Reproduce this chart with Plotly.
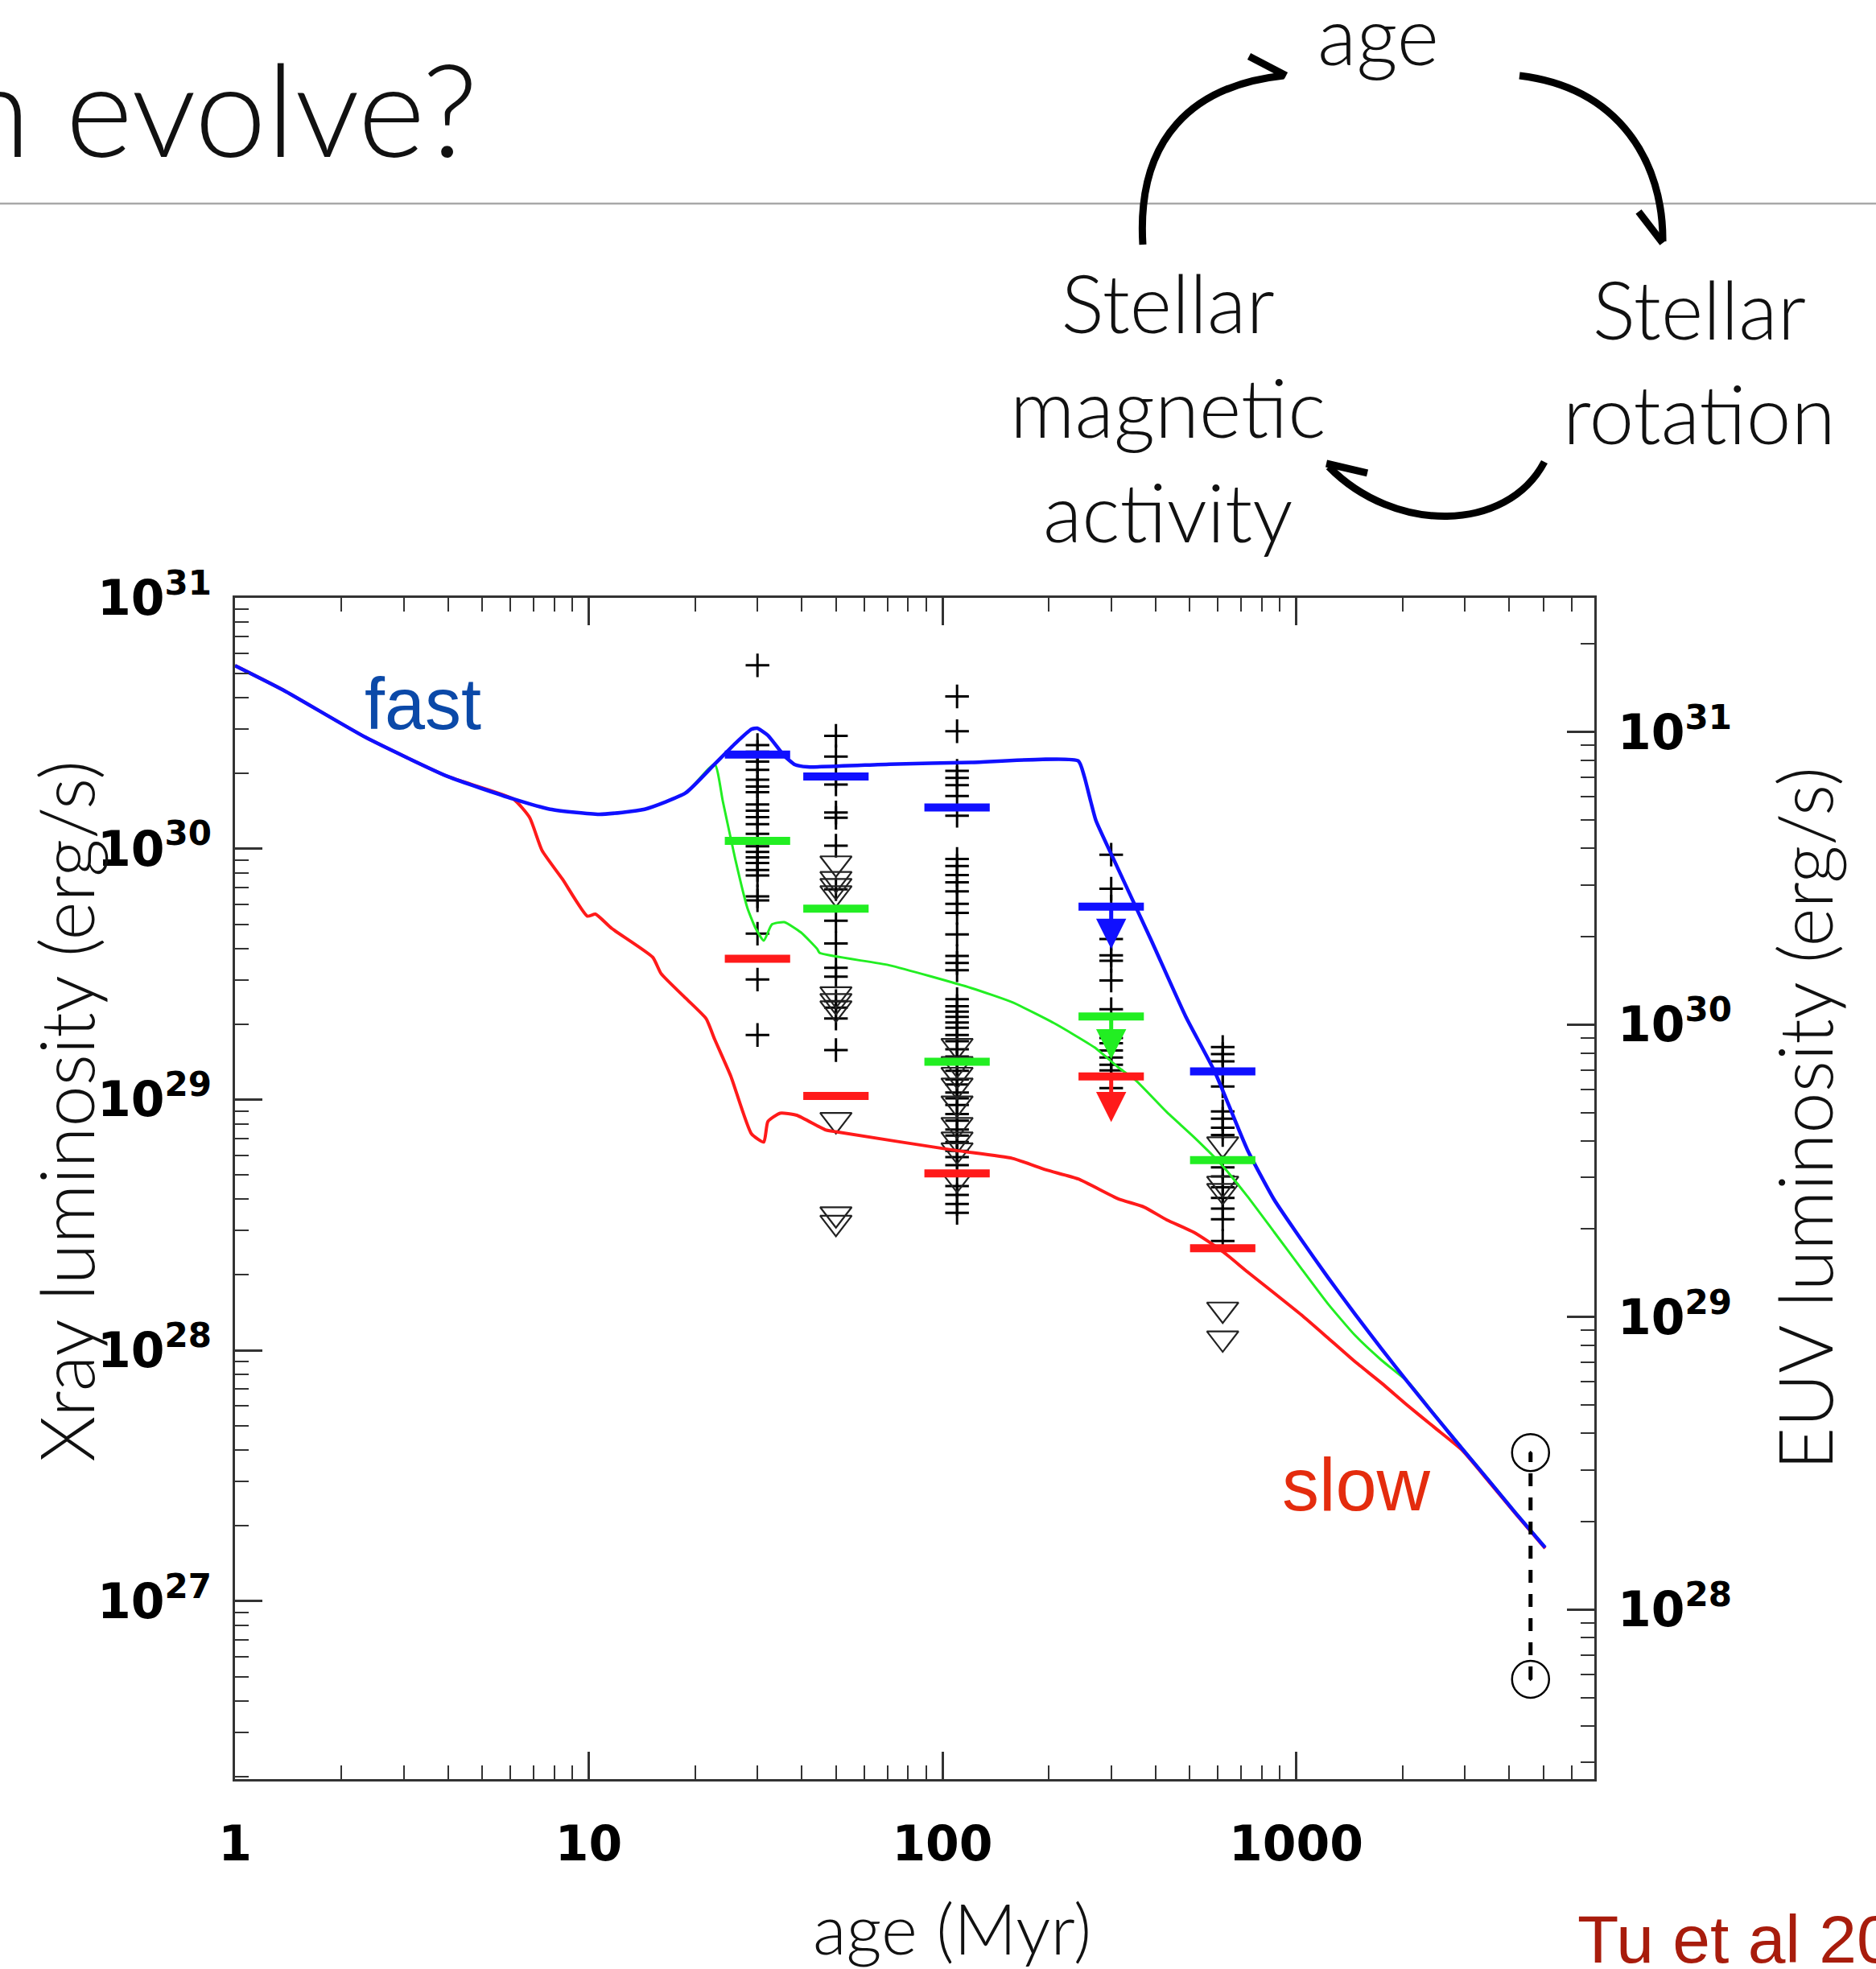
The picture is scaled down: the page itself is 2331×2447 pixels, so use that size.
import numpy as np
import plotly.graph_objects as go

# ---------------- data (log10 of age in Myr, log10 of Lx in erg/s) ----------------
# rotational evolution tracks: fast, medium and slow rotators
fast_logt = [0.0, 0.137, 0.369, 0.601, 0.787, 0.891, 1.03, 1.158, 1.274, 1.356, 1.414, 1.46,
             1.4765, 1.5065, 1.553, 1.583, 1.618, 1.85, 2.082, 2.384, 2.401, 2.419, 2.434,
             2.478, 2.589, 2.688, 2.77, 2.862, 2.938, 3.014, 3.09, 3.166, 3.2416, 3.3174,
             3.393, 3.469, 3.545, 3.621, 3.704]
fast_logL = [30.73, 30.632, 30.444, 30.288, 30.198, 30.157, 30.137, 30.157, 30.222, 30.337,
             30.419, 30.476, 30.48, 30.452, 30.37, 30.335, 30.326, 30.337, 30.344, 30.35,
             30.288, 30.19, 30.112, 29.976, 29.639, 29.33, 29.11, 28.80, 28.60, 28.442,
             28.29, 28.145, 28.005, 27.87, 27.738, 27.608, 27.48, 27.35, 27.213]

medium_logt = [0.0, 0.137, 0.369, 0.601, 0.787, 0.891, 1.03, 1.158, 1.274, 1.356, 1.379, 1.414,
               1.4485, 1.472, 1.495, 1.518, 1.553, 1.60, 1.646, 1.653, 1.85, 2.082, 2.198,
               2.3145, 2.4305, 2.497, 2.5466, 2.634, 2.711, 2.787, 2.862, 2.938, 3.014, 3.09,
               3.166, 3.2416, 3.3174, 3.393, 3.469, 3.545, 3.621, 3.704]
medium_logL = [30.73, 30.632, 30.444, 30.288, 30.198, 30.157, 30.137, 30.157, 30.222, 30.337,
               30.19, 29.96, 29.764, 29.682, 29.633, 29.698, 29.707, 29.666, 29.60, 29.584,
               29.535, 29.444, 29.387, 29.305, 29.207, 29.128, 29.076, 28.95, 28.85, 28.743,
               28.614, 28.471, 28.327, 28.185, 28.06, 27.96, 27.872, 27.741, 27.611, 27.483,
               27.353, 27.216]

slow_logt = [0.0, 0.137, 0.369, 0.601, 0.787, 0.833, 0.868, 0.926, 0.996, 1.019, 1.065, 1.181,
             1.2045, 1.274, 1.332, 1.356, 1.402, 1.46, 1.495, 1.5065, 1.541, 1.588, 1.669,
             1.699, 2.036, 2.198, 2.2935, 2.384, 2.497, 2.57, 2.634, 2.711, 2.787, 2.862,
             2.938, 3.014, 3.09, 3.166, 3.2416, 3.3174, 3.393, 3.469, 3.545, 3.621, 3.704]
slow_logL = [30.73, 30.632, 30.444, 30.288, 30.198, 30.124, 29.993, 29.878, 29.731, 29.739,
             29.682, 29.567, 29.502, 29.404, 29.322, 29.24, 29.092, 28.863, 28.83, 28.912,
             28.945, 28.937, 28.879, 28.871, 28.797, 28.765, 28.719, 28.683, 28.604, 28.571,
             28.52, 28.47, 28.40, 28.313, 28.228, 28.142, 28.049, 27.955, 27.869, 27.777,
             27.69, 27.602, 27.476, 27.347, 27.21]

# cluster ages (Myr)
cluster_ages = [30, 50, 110, 300, 620]

# detections (log10 Lx)
det_30 = [30.731, 30.413, 30.386, 30.347, 30.314, 30.275, 30.248, 30.225, 30.176, 30.151,
          30.126, 30.098, 30.059, 30.009, 29.987, 29.965, 29.943, 29.915, 29.893, 29.810,
          29.794, 29.661, 29.478, 29.257]
det_50 = [30.450, 30.367, 30.290, 30.256, 30.144, 30.123, 30.012, 29.838, 29.713, 29.622,
          29.525, 29.490, 29.392, 29.366, 29.323, 29.197]
det_110 = [30.607, 30.468, 30.310, 30.282, 30.253, 30.210, 30.131, 29.959, 29.931, 29.895,
           29.866, 29.830, 29.780, 29.744, 29.658, 29.572, 29.544, 29.515, 29.400, 29.372,
           29.350, 29.329, 29.307, 29.286, 29.257, 29.232, 29.200, 29.171, 29.148, 29.114,
           29.080, 29.060, 29.028, 29.004, 28.978, 28.942, 28.915, 28.880, 28.856, 28.830,
           28.795, 28.770, 28.738, 28.655, 28.619, 28.583, 28.548]
det_300 = [29.976, 29.840, 29.769, 29.640, 29.575, 29.553, 29.474, 29.360, 29.267, 29.245,
           29.224, 29.195, 29.167, 29.138, 29.116, 29.045]
det_620 = [29.209, 29.181, 29.152, 29.112, 29.052, 28.952, 28.923, 28.887, 28.858, 28.729,
           28.693, 28.650, 28.607, 28.565, 28.522, 28.436]

# upper limits (log10 Lx)
lim_30 = []
lim_50 = [29.942, 29.880, 29.852, 29.823, 29.420, 29.393, 29.364, 28.919, 28.543, 28.509]
lim_110 = [29.214, 29.142, 29.099, 29.056, 28.985, 28.899, 28.841, 28.798, 28.684]
lim_300 = []
lim_620 = [28.822, 28.665, 28.636, 28.163, 28.048]

# percentiles of the rotation distribution in each cluster (log10 Lx)
pct90 = [30.375, 30.288, 30.164, 29.769, 29.112]
pct50 = [30.031, 29.761, 29.150, 29.331, 28.758]
pct10 = [29.561, 29.014, 28.705, 29.092, 28.407]
# percentiles given as upper limits at 300 Myr: arrow tips
ul_age = 300
ul_from = [29.769, 29.331, 29.092]
ul_tip = [29.60, 29.16, 28.91]

# the present Sun: solar-cycle range
sun_age = 4600
sun_logL = [26.688, 27.592]

# ---------------- styling ----------------
W, H = 2331, 2447
PL, PR, PT, PB = 292, 1981, 743, 2211  # plot-area box in pixels

BLUE, GREEN, RED = "#1010ff", "#22ee22", "#ff1a1a"
AX = "#333333"
LIGHT = dict(family="Lato, Liberation Sans, sans-serif", weight=300, color="#111111")
TICKF = dict(family="DejaVu Sans", size=60, color="black", weight="bold")


def px(x):
    return (x - PL) / (PR - PL)


def py(y):
    return (PB - y) / (PB - PT)


def pw(v):
    return [10.0 ** a for a in v]


def minor_ticks(lo, hi):
    return [k * 10.0 ** n for n in range(lo, hi) for k in range(2, 10)]


fig = go.Figure()

# detections and upper limits
dx, dy, lx, ly = [], [], [], []
for age, d, l in zip(cluster_ages, [det_30, det_50, det_110, det_300, det_620],
                     [lim_30, lim_50, lim_110, lim_300, lim_620]):
    dx += [age] * len(d)
    dy += pw(d)
    lx += [age] * len(l)
    ly += pw(l)

fig.add_trace(go.Scatter(x=dx, y=dy, mode="markers",
                         marker=dict(symbol="cross-thin", size=21,
                                     line=dict(width=3, color="black"))))
fig.add_trace(go.Scatter(x=lx, y=ly, mode="markers",
                         marker=dict(symbol="triangle-down-open", size=34, color="#222222",
                                     line=dict(width=2.2, color="#222222"))))

# evolutionary tracks
for t, L, c, w in [(slow_logt, slow_logL, RED, 4),
                   (medium_logt, medium_logL, GREEN, 3),
                   (fast_logt, fast_logL, BLUE, 4.5)]:
    fig.add_trace(go.Scatter(x=pw(t), y=pw(L), mode="lines",
                             line=dict(color=c, width=w, shape="spline", smoothing=0.5)))

# percentile bars
for vals, c in [(pct90, BLUE), (pct50, GREEN), (pct10, RED)]:
    fig.add_trace(go.Scatter(x=cluster_ages, y=pw(vals), mode="markers",
                             marker=dict(symbol="line-ew", size=58,
                                         line=dict(width=10, color=c))))

# Sun
fig.add_trace(go.Scatter(x=[sun_age, sun_age], y=pw(sun_logL), mode="lines+markers",
                         line=dict(color="black", width=5, dash="16px,14px"),
                         marker=dict(symbol="circle-open-dot", size=46, color="black",
                                     line=dict(width=2.5, color="#222222"))))

# helper traces so the mirrored top axis and the EUV axis get drawn
fig.add_trace(go.Scatter(x=[None], y=[None], xaxis="x2", yaxis="y", showlegend=False))
fig.add_trace(go.Scatter(x=[None], y=[None], xaxis="x", yaxis="y2", showlegend=False))

annotations = []
# upper-limit arrows at 300 Myr
for y0, y1, c in zip(ul_from, ul_tip, [BLUE, GREEN, RED]):
    annotations.append(dict(x=float(np.log10(ul_age)), y=y1, ax=float(np.log10(ul_age)), ay=y0,
                            xref="x", yref="y", axref="x", ayref="y", text="",
                            showarrow=True, arrowhead=2, arrowsize=1.5, arrowwidth=5,
                            arrowcolor=c, standoff=0))


def label(text, x, y, size, font=None, color=None, xanchor="center", angle=0):
    f = dict(LIGHT if font is None else font)
    f["size"] = size
    if color:
        f["color"] = color
    annotations.append(dict(text=text, x=px(x), y=py(y), xref="paper", yref="paper",
                            xanchor=xanchor, yanchor="middle", showarrow=False,
                            font=f, textangle=angle))


REG = dict(family="Liberation Sans, Arial, sans-serif", color="black")
label("n evolve?", -52, 133, 160, xanchor="left")
label("age", 1712, 42, 100)
label("Stellar<br>magnetic<br>activity", 1451, 505, 100)
label("Stellar<br>rotation", 2111, 448, 100)
label("Xray luminosity (erg/s)", 81, 1381, 92, angle=-90)
label("EUV luminosity (erg/s)", 2241, 1390, 92, angle=-90)
label("age (Myr)", 1183, 2395, 86)
label("fast", 525, 875, 90, font=REG, color="#0b49a8")
label("slow", 1685, 1845, 92, font=REG, color="#e42c0e")
label("Tu et al 2015", 1958, 2410, 84, font=REG, color="#a81c0c", xanchor="left")


# cycle diagram arrows
def path(cmds):
    out = []
    for cmd, pts in cmds:
        out.append(cmd + " " + " ".join(f"{px(a):.5f},{py(b):.5f}" for a, b in pts))
    return " ".join(out)


shapes = [dict(type="line", xref="paper", yref="paper", x0=px(0), x1=px(W),
               y0=py(253), y1=py(253), line=dict(color="#a8a8a8", width=2.5), layer="below")]
arrows = [
    ([(1420, 304)], [(1412, 172), (1482, 106), (1595, 94)],
     [(1552, 70), (1598, 94), (1560, 125)]),
    ([(1888, 94)], [(2013, 109), (2067, 203), (2066, 300)],
     [(2036, 263), (2066, 302), (2096, 263)]),
    ([(1919, 574)], [(1872, 663), (1732, 663), (1651, 580)],
     [(1699, 588), (1648, 576), (1660, 629)]),
]
for start, curve, head in arrows:
    shapes.append(dict(type="path", xref="paper", yref="paper",
                       path=path([("M", start), ("C", curve)]),
                       line=dict(color="black", width=9)))
    shapes.append(dict(type="path", xref="paper", yref="paper",
                       path=path([("M", [head[0]]), ("L", head[1:])]),
                       line=dict(color="black", width=9)))

axis_common = dict(type="log", showline=True, linewidth=3, linecolor=AX, ticks="inside",
                   ticklen=34, tickwidth=2.5, tickcolor=AX, showgrid=False, zeroline=False)
minor_common = dict(ticks="inside", ticklen=17, tickwidth=2, tickcolor=AX, showgrid=False)

fig.update_layout(
    width=W, height=H, autosize=False,
    margin=dict(l=PL, r=W - PR, t=PT, b=H - PB, pad=0),
    paper_bgcolor="white", plot_bgcolor="white",
    showlegend=False, hovermode=False,
    xaxis=dict(**axis_common, range=[0, 3.843], tickvals=[1, 10, 100, 1000],
               ticktext=["1", "10", "100", "1000"], tickfont=TICKF, ticklabelstandoff=26,
               minor=dict(**minor_common, tickvals=minor_ticks(0, 4))),
    xaxis2=dict(**axis_common, range=[0, 3.843], overlaying="x", side="top", anchor="y",
                tickvals=[1, 10, 100, 1000], showticklabels=False,
                minor=dict(**minor_common, tickvals=minor_ticks(0, 4))),
    yaxis=dict(**axis_common, range=[26.29, 31],
               tickvals=[1e27, 1e28, 1e29, 1e30, 1e31],
               ticktext=["10<sup>27</sup>", "10<sup>28</sup>", "10<sup>29</sup>",
                         "10<sup>30</sup>", "10<sup>31</sup>"],
               tickfont=TICKF, ticklabelstandoff=14,
               minor=dict(**minor_common, tickvals=minor_ticks(26, 31))),
    yaxis2=dict(**axis_common, range=[27.42, 31.459], overlaying="y", side="right",
                anchor="x", tickvals=[1e28, 1e29, 1e30, 1e31],
                ticktext=["10<sup>28</sup>", "10<sup>29</sup>", "10<sup>30</sup>",
                          "10<sup>31</sup>"],
                tickfont=TICKF, ticklabelstandoff=14,
                minor=dict(**minor_common, tickvals=minor_ticks(27, 32))),
    annotations=annotations,
    shapes=shapes,
)

fig.write_html("out.html")
